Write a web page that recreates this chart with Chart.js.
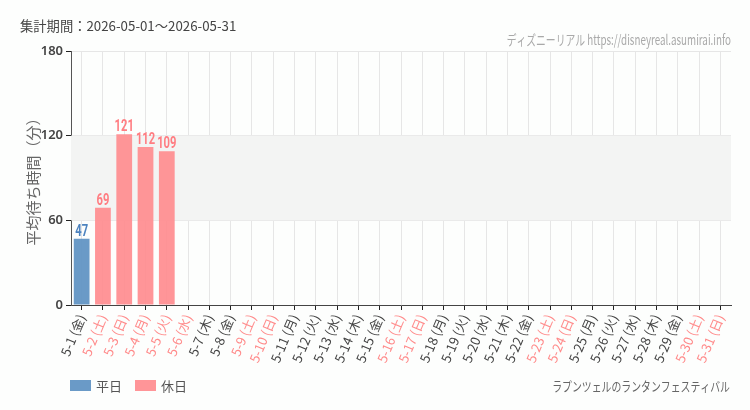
<!DOCTYPE html>
<html><head><meta charset="utf-8">
<script src="https://cdn.jsdelivr.net/npm/chart.js@4"></script>
<style>html,body{margin:0;padding:0;background:#fdfefd;}#wrap{width:750px;height:410px;position:relative;}</style>
</head><body><div id="wrap"><canvas id="c" width="750" height="410"></canvas></div>
<script>
const labels = ["5-1 (金)","5-2 (土)","5-3 (日)","5-4 (月)","5-5 (火)","5-6 (水)","5-7 (木)","5-8 (金)","5-9 (土)","5-10 (日)","5-11 (月)","5-12 (火)","5-13 (水)","5-14 (木)","5-15 (金)","5-16 (土)","5-17 (日)","5-18 (月)","5-19 (火)","5-20 (水)","5-21 (木)","5-22 (金)","5-23 (土)","5-24 (日)","5-25 (月)","5-26 (火)","5-27 (水)","5-28 (木)","5-29 (金)","5-30 (土)","5-31 (日)"];
const holidayFlags = [0,1,1,1,1,1,0,0,1,1,0,0,0,0,0,1,1,0,0,0,0,0,1,1,0,0,0,0,0,1,1];
const weekdayValues = [47,null,null,null,null,null,null,null,null,null,null,null,null,null,null,null,null,null,null,null,null,null,null,null,null,null,null,null,null,null,null];
const holidayValues = [null,69,121,112,109,null,null,null,null,null,null,null,null,null,null,null,null,null,null,null,null,null,null,null,null,null,null,null,null,null,null];
const yTicks = [0,60,120,180];
const bandRange = [60,120];
const titleText = "集計期間：2026-05-01～2026-05-31";
const sourceText = "ディズニーリアル https://disneyreal.asumirai.info";
const attractionName = "ラプンツェルのランタンフェスティバル";
const yTitle = "平均待ち時間（分）";

const BLUE = "rgba(98,149,196,0.95)", PINK = "rgba(255,140,143,0.92)";
const BLUE_T = "#4d83bf", PINK_T = "#ff7d82";
const JP = '"Noto Sans CJK JP","Noto Sans",sans-serif';

const bandPlugin = {
  id:'band',
  beforeDatasetsDraw(chart){
    const {ctx, chartArea:a, scales:{y}} = chart;
    ctx.save();
    ctx.fillStyle = '#f3f4f3';
    const t = y.getPixelForValue(bandRange[1]), b = y.getPixelForValue(bandRange[0]);
    ctx.fillRect(a.left, t, a.right-a.left, b-t);
    ctx.restore();
  }
};
const deco = {
  id:'deco',
  afterDraw(chart){
    const {ctx} = chart;
    ctx.save();
    chart.data.datasets.forEach((ds,di)=>{
      const meta = chart.getDatasetMeta(di);
      meta.data.forEach((el,i)=>{
        const v = ds.data[i];
        if (v==null) return;
        ctx.save();
        ctx.translate(el.x, el.y-3);
        ctx.scale(0.7,1);
        ctx.font = 'bold 16px Roboto, sans-serif';
        ctx.fillStyle = di===0?BLUE_T:PINK_T;
        ctx.textAlign='center'; ctx.textBaseline='alphabetic';
        ctx.fillText(String(v),0,0);
        ctx.restore();
      });
    });
    ctx.font = '13.3px '+JP; ctx.fillStyle='#444'; ctx.textAlign='left'; ctx.textBaseline='middle';
    ctx.fillText(titleText, 20, 26);
    ctx.save();
    ctx.translate(731, 40);
    ctx.scale(0.7,1);
    ctx.font = '14px '+JP; ctx.fillStyle='#a9a9a9'; ctx.textAlign='right'; ctx.textBaseline='middle';
    ctx.fillText(sourceText, 0, 0);
    ctx.restore();
    ctx.save();
    ctx.translate(730, 386);
    ctx.scale(0.76,1);
    ctx.font = '13px '+JP; ctx.fillStyle='#666'; ctx.textAlign='right'; ctx.textBaseline='middle';
    ctx.fillText(attractionName, 0, 0);
    ctx.restore();
    let x = 70;
    chart.data.datasets.forEach((ds)=>{
      ctx.fillStyle = ds.backgroundColor;
      ctx.fillRect(x, 380, 21, 11);
      ctx.font = '13px '+JP; ctx.fillStyle='#555'; ctx.textAlign='left'; ctx.textBaseline='middle';
      ctx.fillText(ds.label, x+26, 386);
      x += 65;
    });
    ctx.restore();
  }
};

new Chart(document.getElementById('c'), {
  type:'bar',
  data:{ labels, datasets:[
    {label:'平日', data:weekdayValues, backgroundColor:BLUE, barPercentage:0.74, categoryPercentage:1},
    {label:'休日', data:holidayValues, backgroundColor:PINK, barPercentage:0.74, categoryPercentage:1}
  ]},
  options:{
    responsive:false, animation:false,
    layout:{padding:{top:51,left:24,right:19,bottom:0}},
    plugins:{legend:{display:false}, tooltip:{enabled:false}},
    scales:{
      x:{ stacked:true,
        grid:{offset:false, color:'#e6e6e6', tickColor:'#222', tickLength:5},
        border:{color:'#444'},
        ticks:{ minRotation:67, maxRotation:67, autoSkip:false, padding:2,
          font:{family:JP, size:13},
          color:(c)=> holidayFlags[c.index] ? '#ff8a8a' : '#444' },
        afterFit(s){ s.height = 105; }
      },
      y:{ stacked:false, min:0, max:180,
        afterBuildTicks(s){ s.ticks = yTicks.map(v=>({value:v})); },
        grid:{color:'#e6e6e6', tickColor:'#222', tickLength:5},
        border:{color:'#555'},
        ticks:{font:{family:'"Noto Sans",sans-serif', size:13, weight:'600'}, color:'#444', padding:3},
        title:{display:true, text:yTitle, font:{family:JP, size:15}, color:'#666', padding:{top:0,bottom:4}},
        afterFit(s){ s.width = 47; }
      }
    }
  },
  plugins:[bandPlugin, deco]
});
</script></body></html>
